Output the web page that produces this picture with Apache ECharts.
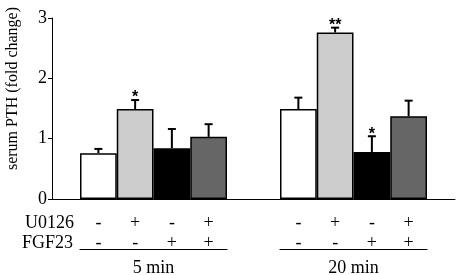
<!DOCTYPE html>
<html>
<head>
<meta charset="utf-8">
<script src="https://cdn.jsdelivr.net/npm/echarts@6/dist/echarts.min.js"></script>
<style>
  html, body { margin: 0; padding: 0; background: #fff; }
  #chart { width: 458px; height: 275px; }
</style>
</head>
<body>
<div id="chart"></div>
<script>
// treatment labels and timepoints
const timepoints = ['5 min', '20 min'];
const u0126 = ['-', '+', '-', '+'];
const fgf23 = ['-', '-', '+', '+'];
const barColors = ['#ffffff', '#cccccc', '#000000', '#666666'];

// serum PTH, fold change (mean and error)
const means5 = [0.76, 1.49, 0.84, 1.03];
const err5 = [0.07, 0.15, 0.32, 0.21];
const stars5 = ['', '*', '', ''];
const means20 = [1.49, 2.76, 0.78, 1.37];
const err20 = [0.19, 0.08, 0.26, 0.26];
const stars20 = ['', '**', '*', ''];

const yTicks = [0, 1, 2, 3];

const FONT = '"Liberation Serif", "Times New Roman", serif';
const treatLabels = u0126.map((u, i) => u + '\n' + fgf23[i]);

function errorItem(params, api) {
  const i = api.value(0);
  const m = api.value(1);
  const e = api.value(2);
  const star = params.seriesIndex === 2 ? stars5[i] : stars20[i];
  const top = api.coord([i, m + e]);
  const base = api.coord([i, m]);
  const children = [
    { type: 'line', shape: { x1: top[0], y1: base[1], x2: top[0], y2: top[1] },
      style: { stroke: '#000', lineWidth: 2 } },
    { type: 'line', shape: { x1: top[0] - 4, y1: top[1], x2: top[0] + 4, y2: top[1] },
      style: { stroke: '#000', lineWidth: 2 } }
  ];
  if (star) {
    children.push({ type: 'text', style: {
      text: star, x: top[0], y: top[1] + 6, textAlign: 'center', textVerticalAlign: 'bottom',
      font: 'bold 16px "Liberation Sans", sans-serif', fill: '#000' } });
  }
  return { type: 'group', children: children };
}

function barSeries(idx, means) {
  return {
    type: 'bar', xAxisIndex: idx, yAxisIndex: idx,
    data: means, barCategoryGap: 0, animation: false,
    itemStyle: { color: p => barColors[p.dataIndex], borderColor: '#000', borderWidth: 1.5 }
  };
}

function errSeries(idx, means, errs) {
  return {
    type: 'custom', xAxisIndex: idx, yAxisIndex: idx, z: 5, animation: false,
    renderItem: errorItem,
    data: means.map((m, i) => [i, m, errs[i]])
  };
}

const chart = echarts.init(document.getElementById('chart'));

const hiddenY = { type: 'value', min: 0, max: 3, show: false };
const treatAxis = (grid) => ({
  type: 'category', gridIndex: grid, data: treatLabels,
  axisLine: { show: false }, axisTick: { show: false },
  axisLabel: { margin: 14, fontFamily: FONT, fontSize: 18, color: '#000', lineHeight: 20 }
});
const lineAxis = (grid, name) => ({
  type: 'category', gridIndex: grid, data: treatLabels, position: 'bottom', offset: 50,
  axisLine: { lineStyle: { color: '#000', width: 1.2 } },
  axisTick: { show: false }, axisLabel: { show: false },
  name: name, nameLocation: 'middle', nameGap: 10,
  nameTextStyle: { fontFamily: FONT, fontSize: 18, color: '#000' }
});
const gridBase = { top: 18, bottom: 76, outerBoundsMode: 'none', containLabel: false };

chart.setOption({
  backgroundColor: '#fff',
  animation: false,
  grid: [
    Object.assign({ left: 52, right: 3 }, gridBase),
    Object.assign({ left: 80, width: 147 }, gridBase),
    Object.assign({ left: 280, width: 147 }, gridBase)
  ],
  xAxis: [
    { type: 'category', gridIndex: 0, data: [''], axisTick: { show: false },
      axisLabel: { show: false }, axisLine: { lineStyle: { color: '#000', width: 1 } } },
    treatAxis(1), treatAxis(2),
    lineAxis(1, timepoints[0]), lineAxis(2, timepoints[1])
  ],
  yAxis: [
    { type: 'value', gridIndex: 0, min: yTicks[0], max: yTicks[yTicks.length - 1], interval: 1,
      splitLine: { show: false },
      axisLine: { show: true, lineStyle: { color: '#000', width: 1 } },
      axisTick: { show: true, length: 4, lineStyle: { color: '#000' } },
      axisLabel: { margin: 5, fontFamily: FONT, fontSize: 18, color: '#000' },
      name: 'serum PTH (fold change)', nameLocation: 'middle', nameRotate: 90, nameGap: 31,
      nameTextStyle: { fontFamily: FONT, fontSize: 16, color: '#000', padding: [0, 0, 0, 40] } },
    Object.assign({ gridIndex: 1 }, hiddenY),
    Object.assign({ gridIndex: 2 }, hiddenY)
  ],
  graphic: [
    { type: 'text', right: 458 - 74, top: 214, style: { text: 'U0126', font: '18px ' + FONT, fill: '#000' } },
    { type: 'text', right: 458 - 73, top: 234, style: { text: 'FGF23', font: '18px ' + FONT, fill: '#000' } }
  ],
  series: [
    barSeries(1, means5), barSeries(2, means20),
    errSeries(1, means5, err5), errSeries(2, means20, err20)
  ]
});
</script>
</body>
</html>
